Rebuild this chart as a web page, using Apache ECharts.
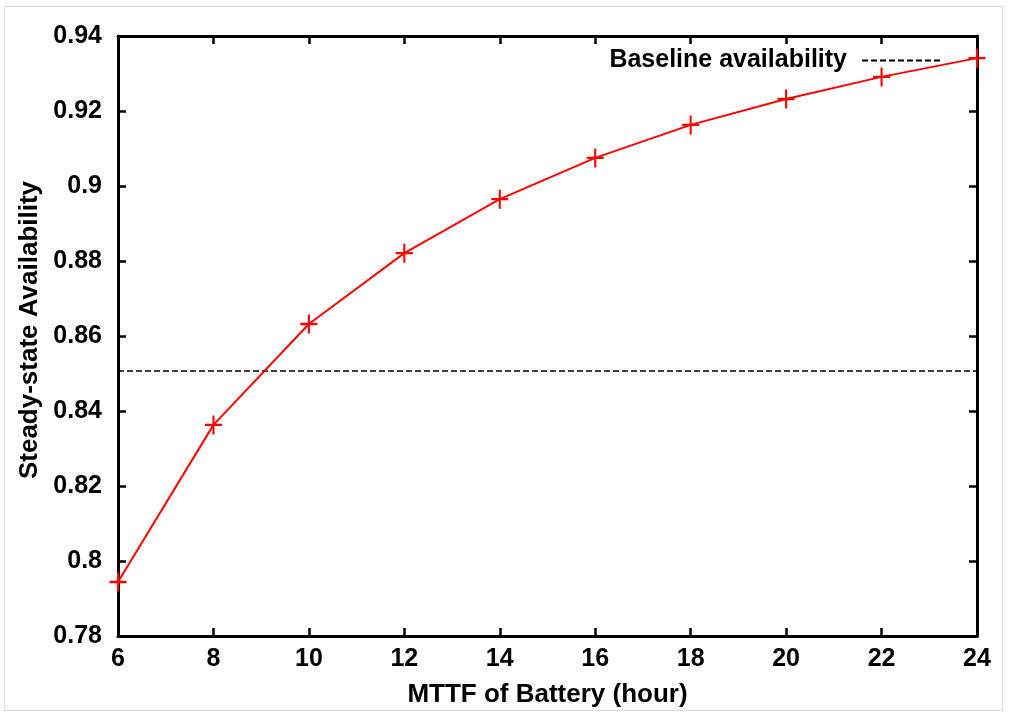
<!DOCTYPE html>
<html>
<head>
    <meta charset="utf-8">
    <script src="https://cdn.jsdelivr.net/npm/echarts@6/dist/echarts.min.js"></script>
    <style>
    html, body { margin: 0; padding: 0; background: #fff; }
    #frame {
      position: absolute; left: 4px; top: 6px; width: 999px; height: 705px;
      border: 1px solid #ddd; box-sizing: border-box;
    }
    #main { position: absolute; left: 0; top: 0; width: 1009px; height: 713px; }
    </style>
    <title>Steady-state Availability</title>
</head>
<body>
    <div id="frame"></div>
    <div id="main"></div>
    <script type="text/javascript">

        // MTTF of battery (hours) and resulting availability
        var mttf = [6, 8, 10, 12, 14, 16, 18, 20, 22, 24];
        var availability = [0.7944, 0.8363, 0.8632, 0.8821, 0.8965, 0.9075, 0.9163, 0.9232, 0.9291, 0.9341];
        var baseline = 0.8507;
        var xTicks = [6, 24, 2];          // min, max, interval
        var yTicks = [0.78, 0.94, 0.02];

        var font = 'Liberation Sans, Arial, Helvetica, sans-serif';
        var plus = 'path://M0,-10L0,10M-10,0L10,0';

        var myChart = echarts.init(document.getElementById('main'));

        function axisBase(show) {
            return {
                type: 'value',
                axisLine: { show: true, lineStyle: { color: '#000', width: 3 } },
                axisTick: { show: true, inside: true, length: 8, lineStyle: { color: '#000', width: 2.5 } },
                splitLine: { show: false },
                axisLabel: {
                    show: show, color: '#000', fontFamily: font, fontWeight: 'bold', fontSize: 25
                }
            };
        }

        var xMain = axisBase(true);
        xMain.min = xTicks[0]; xMain.max = xTicks[1]; xMain.interval = xTicks[2];
        xMain.position = 'bottom';
        xMain.axisLabel.margin = 11;
        xMain.name = 'MTTF of Battery (hour)';
        xMain.nameLocation = 'middle';
        xMain.nameGap = 46;
        xMain.nameTextStyle = { color: '#000', fontFamily: font, fontWeight: 'bold', fontSize: 26 };

        var xTop = axisBase(false);
        xTop.min = xTicks[0]; xTop.max = xTicks[1]; xTop.interval = xTicks[2];
        xTop.position = 'top';

        var yMain = axisBase(true);
        yMain.min = yTicks[0]; yMain.max = yTicks[1]; yMain.interval = yTicks[2];
        yMain.position = 'left';
        yMain.axisLabel.margin = 16;
        yMain.axisLabel.formatter = function (v) { return String(+v.toFixed(2)); };
        yMain.name = 'Steady-state Availability';
        yMain.nameLocation = 'middle';
        yMain.nameGap = 74;
        yMain.nameTextStyle = { color: '#000', fontFamily: font, fontWeight: 'bold', fontSize: 26, padding: [0, 0, 0, 12] };

        var yRight = axisBase(false);
        yRight.min = yTicks[0]; yRight.max = yTicks[1]; yRight.interval = yTicks[2];
        yRight.position = 'right';

        var option = {
            animation: false,
            backgroundColor: 'transparent',
            grid: { left: 118, right: 32, top: 36, bottom: 77 },
            legend: {
                data: ['Baseline availability'],
                right: 61,
                top: 43,
                align: 'right',
                itemWidth: 80,
                itemHeight: 14,
                itemGap: 10,
                itemStyle: { opacity: 0 },
                textStyle: { color: '#000', fontFamily: font, fontWeight: 'bold', fontSize: 25, padding: [0, 10, 0, 0] }
            },
            xAxis: [xMain, xTop],
            yAxis: [yMain, yRight],
            series: [
                {
                    name: 'MTTF',
                    type: 'line',
                    data: mttf.map(function (x, i) { return [x, availability[i]]; }),
                    symbol: plus,
                    symbolSize: [17, 19],
                    showAllSymbol: true,
                    clip: false,
                    lineStyle: { color: '#ff0000', width: 2 },
                    itemStyle: { color: '#ff0000', borderColor: '#ff0000', borderWidth: 2.2 },
                    z: 3
                },
                {
                    name: 'Baseline availability',
                    type: 'line',
                    data: [[xTicks[0], baseline], [xTicks[1], baseline]],
                    symbol: 'none',
                    lineStyle: { color: '#000', width: 1.5, type: [6, 3] },
                    itemStyle: { color: '#000' },
                    z: 2
                }
            ]
        };
        myChart.setOption(option);

    </script>
</body>
</html>
